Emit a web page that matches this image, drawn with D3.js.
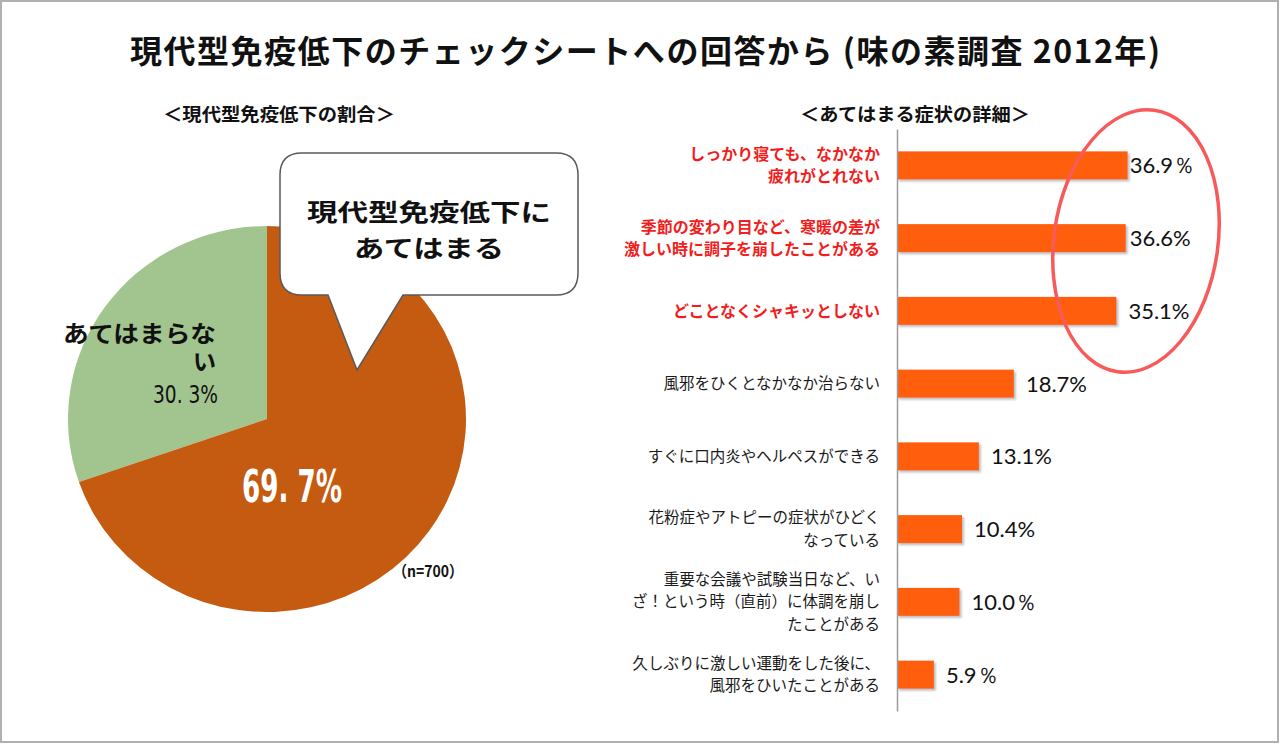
<!DOCTYPE html>
<html><head><meta charset="utf-8">
<script src="https://cdn.jsdelivr.net/npm/d3@7"></script>
<style>
html,body{margin:0;padding:0;background:#fff;}
svg{display:block;}
</style></head>
<body>
<svg id="c" width="1280" height="744"></svg>
<script>
// ---- data ----
const title = "現代型免疫低下のチェックシートへの回答から (味の素調査 2012年)";
const pieTitle = "＜現代型免疫低下の割合＞";
const barTitle = "＜あてはまる症状の詳細＞";
const pieCategories = ["あてはまらない", "現代型免疫低下にあてはまる"];
const pieValues = [30.3, 69.7];
const pieLabels = ["30. 3%", "69. 7%"];
const sampleNote = "（n=700）";
const calloutLines = ["現代型免疫低下に", "あてはまる"];
const barCategories = [
  "しっかり寝ても、なかなか\n疲れがとれない",
  "季節の変わり目など、寒暖の差が\n激しい時に調子を崩したことがある",
  "どことなくシャキッとしない",
  "風邪をひくとなかなか治らない",
  "すぐに口内炎やヘルペスができる",
  "花粉症やアトピーの症状がひどく\nなっている",
  "重要な会議や試験当日など、い\nざ！という時（直前）に体調を崩し\nたことがある",
  "久しぶりに激しい運動をした後に、\n風邪をひいたことがある"
];
const barValues = [36.9, 36.6, 35.1, 18.7, 13.1, 10.4, 10.0, 5.9];
const barValueLabels = ["36.9％", "36.6%", "35.1%", "18.7%", "13.1%", "10.4%", "10.0％", "5.9％"];
const highlighted = [true, true, true, false, false, false, false, false];

// ---- drawing ----
const svg = d3.select("#c");
const JP = "'Noto Sans CJK JP','Noto Sans',sans-serif";

// frame
svg.append("rect").attr("x",1).attr("y",1).attr("width",1277).attr("height",741)
  .attr("fill","#fff").attr("stroke","#b0b0b0").attr("stroke-width",2);

const defs = svg.append("defs");
const f = defs.append("filter").attr("id","sh").attr("x","-10%").attr("y","-30%").attr("width","130%").attr("height","180%");
f.append("feDropShadow").attr("dx",2).attr("dy",2).attr("stdDeviation",1.2)
  .attr("flood-color","#888").attr("flood-opacity",0.55);

// title
svg.append("text").attr("x",645).attr("y",63).attr("text-anchor","middle")
  .attr("font-family",JP).attr("font-weight",700).attr("font-size",32)
  .attr("textLength",1030).attr("lengthAdjust","spacing")
  .attr("fill","#111").text(title);

svg.append("text").attr("x",279).attr("y",121).attr("text-anchor","middle")
  .attr("font-family",JP).attr("font-weight",700).attr("font-size",18.5)
  .attr("textLength",232).attr("lengthAdjust","spacingAndGlyphs")
  .attr("fill","#111").text(pieTitle);
svg.append("text").attr("x",915).attr("y",121).attr("text-anchor","middle")
  .attr("font-family",JP).attr("font-weight",700).attr("font-size",18.5)
  .attr("textLength",230).attr("lengthAdjust","spacingAndGlyphs")
  .attr("fill","#111").text(barTitle);

// ---- pie ----
const pieColors = d3.scaleOrdinal().domain(pieCategories).range(["#a2c48f","#c55a11"]);
const start = -2*Math.PI*pieValues[0]/100;
const pie = d3.pie().sort(null).startAngle(start).endAngle(start+2*Math.PI);
const arc = d3.arc().innerRadius(0).outerRadius(199);
const arcs = pie(pieValues);
const pg = svg.append("g").attr("transform","translate(267,419) scale(1,0.97)");
pg.selectAll("path").data(arcs).join("path")
  .attr("d",arc).attr("fill",(d,i)=>pieColors(pieCategories[i]));

// pie labels (one text element, three lines)
const nl = svg.append("text").attr("font-family",JP).attr("font-weight",700)
  .attr("fill","#111").attr("text-anchor","end");
nl.append("tspan").attr("x",216).attr("y",342).attr("font-size",23)
  .attr("textLength",153).attr("lengthAdjust","spacingAndGlyphs").text(pieCategories[0].slice(0,6));
nl.append("tspan").attr("x",216).attr("y",370).attr("font-size",23).text(pieCategories[0].slice(6));
nl.append("tspan").attr("x",218).attr("y",403)
  .attr("font-family","'Liberation Sans Narrow','DejaVu Sans Condensed',"+JP).attr("font-weight",400).attr("font-size",24)
  .attr("textLength",65).attr("lengthAdjust","spacingAndGlyphs").text(pieLabels[0]);
svg.append("text").attr("x",242).attr("y",502)
  .attr("font-family","'Liberation Sans Narrow','DejaVu Sans Condensed',sans-serif").attr("font-weight",700).attr("font-size",44)
  .attr("textLength",100).attr("lengthAdjust","spacingAndGlyphs")
  .attr("fill","#fff").text(pieLabels[1]);
svg.append("text").attr("x",393).attr("y",577)
  .attr("font-family",JP).attr("font-weight",700).attr("font-size",16)
  .attr("textLength",70).attr("lengthAdjust","spacingAndGlyphs")
  .attr("fill","#111").text(sampleNote);

// callout
const cx0=280, cy0=153, cx1=578, cy1=295, r=22;
const callout = `M${cx0+r},${cy0} H${cx1-r} Q${cx1},${cy0} ${cx1},${cy0+r} V${cy1-r} Q${cx1},${cy1} ${cx1-r},${cy1}
 H403 L357,370 L328,${cy1} H${cx0+r} Q${cx0},${cy1} ${cx0},${cy1-r} V${cy0+r} Q${cx0},${cy0} ${cx0+r},${cy0} Z`;
svg.append("path").attr("d",callout).attr("fill","#fff").attr("stroke","#5a5a5a").attr("stroke-width",1.5);
const ct = svg.append("text").attr("text-anchor","middle")
  .attr("font-family",JP).attr("font-weight",700).attr("font-size",24).attr("fill","#111");
ct.append("tspan").attr("x",429).attr("y",221)
  .attr("textLength",244).attr("lengthAdjust","spacingAndGlyphs").text(calloutLines[0]);
ct.append("tspan").attr("x",429).attr("y",257)
  .attr("textLength",150).attr("lengthAdjust","spacingAndGlyphs").text(calloutLines[1]);

// ---- bars ----
const x = d3.scaleLinear().domain([0,40]).range([897,1147]);
const y = d3.scaleBand().domain(barCategories).range([129,711]).paddingInner(0.615).paddingOuter(0.3075);

const bg = svg.append("g");
bg.selectAll("rect").data(barValues).join("rect")
  .attr("x",x(0)).attr("y",(d,i)=>y(barCategories[i]))
  .attr("width",d=>x(d)-x(0)).attr("height",y.bandwidth())
  .attr("fill","#ff5f0f").attr("filter","url(#sh)");

const ax = svg.append("g").attr("transform",`translate(${x(0)},0)`)
  .call(d3.axisLeft(y).tickSize(0).tickSizeOuter(0).tickFormat(""));
ax.select(".domain").attr("stroke","#9a9a9a").attr("stroke-width",1.5);

// category labels
barCategories.forEach((c,i)=>{
  const lines = c.split("\n");
  const cy = y(c)+y.bandwidth()/2;
  const lh = 22.5;
  const t = svg.append("text").attr("text-anchor","end")
    .attr("font-family",JP).attr("font-size",highlighted[i]?16:15.5)
    .attr("font-weight",highlighted[i]?700:400)
    .attr("fill",highlighted[i]?"#f21d1d":"#1a1a1a");
  lines.forEach((ln,j)=>{
    t.append("tspan").attr("x",880)
     .attr("y",cy+(j-(lines.length-1)/2)*lh).attr("dy","0.36em").text(ln);
  });
});

// value labels
const maxV = d3.max(barValues);
svg.append("g").selectAll("text").data(barValues).join("text")
  .attr("x",d=>Math.min(x(d)+12, x(maxV)+2))
  .attr("y",(d,i)=>y(barCategories[i])+y.bandwidth()/2)
  .attr("dy","0.36em")
  .attr("font-family","Lato,'Open Sans',sans-serif").attr("font-size",22)
  .attr("fill","#111")
  .text((d,i)=>barValueLabels[i]);

// highlight ellipse
svg.append("ellipse").attr("cx",1136).attr("cy",241).attr("rx",82).attr("ry",132)
  .attr("transform","rotate(8,1136,241)")
  .attr("fill","none").attr("stroke","#f75a5a").attr("stroke-width",3.5);
</script>
</body></html>
